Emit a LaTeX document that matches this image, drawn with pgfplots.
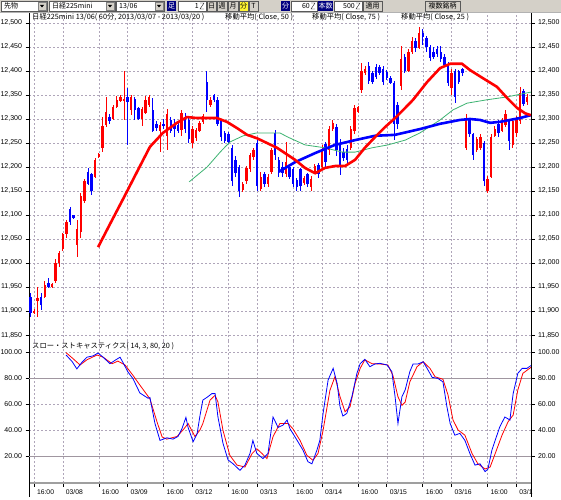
\documentclass[border=0pt]{standalone}
\usepackage{fontspec}
\setmainfont{Liberation Sans}
\newfontfamily\jp{Noto Sans CJK JP}
\usepackage{pgfplots}
\usepackage{pgfplotstable}
\pgfplotsset{compat=1.18}
\definecolor{gridc}{RGB}{175,165,185}
\definecolor{tb}{RGB}{212,208,200}
\definecolor{navyc}{RGB}{0,0,128}
\definecolor{mag}{RGB}{60,179,113}
\definecolor{thr}{RGB}{160,150,160}

% up (red) candles
\pgfplotstableread{
i o h l c
0 11895 11905 11893 11900
1 11920 11950 11888 11927
3 11930 11962 11927 11955
5 11950 11958 11948 11956
6 11962 12008 11958 12000
7 12000 12025 11992 12020
8 12030 12062 12025 12060
9 12060 12090 12052 12085
12 12037 12090 12012 12071
13 12065 12146 12052 12140
14 12130 12175 12125 12170
17 12180 12219 12177 12215
18 12220 12229 12219 12228
19 12240 12304 12231 12285
20 12288 12346 12283 12315
22 12300 12329 12298 12325
23 12325 12348 12323 12340
24 12337 12350 12335 12345
25 12337 12400 12298 12342
27 12318 12350 12308 12345
30 12300 12325 12285 12320
31 12312 12347 12310 12340
32 12330 12350 12326 12345
35 12274 12294 12232 12287
37 12265 12320 12235 12310
41 12278 12318 12265 12312
44 12250 12285 12240 12280
45 12260 12282 12255 12278
46 12276 12296 12272 12292
47 12294 12310 12290 12306
49 12330 12345 12325 12340
58 12152 12168 12148 12164
59 12170 12203 12165 12198
60 12196 12230 12190 12225
61 12220 12240 12215 12235
63 12155 12190 12150 12180
65 12165 12185 12158 12180
66 12190 12240 12185 12235
70 12185 12253 12180 12210
75 12166 12182 12162 12178
77 12158 12182 12150 12175
78 12188 12206 12185 12202
80 12200 12245 12195 12238
82 12235 12286 12225 12280
83 12280 12298 12275 12292
88 12240 12286 12235 12280
89 12275 12330 12268 12322
90 12315 12328 12312 12325
91 12360 12416 12355 12400
92 12396 12410 12392 12405
102 12368 12452 12360 12425
104 12400 12445 12398 12440
105 12440 12470 12435 12462
107 12448 12492 12445 12480
116 12365 12405 12350 12395
120 12240 12310 12235 12300
123 12236 12262 12232 12258
124 12240 12268 12235 12262
126 12150 12182 12145 12175
127 12180 12268 12178 12262
128 12265 12286 12262 12280
130 12275 12302 12272 12296
131 12288 12318 12284 12310
133 12245 12303 12240 12295
134 12270 12306 12262 12300
135 12295 12366 12290 12355
137 12335 12352 12330 12345
}\upc

% down (blue) candles
\pgfplotstableread{
i o h l c
-1 11930 11937 11887 11895
2 11930 11937 11902 11912
4 11958 11968 11948 11950
10 12112 12117 12080 12085
11 12100 12100 12092 12094
15 12190 12198 12162 12165
16 12185 12187 12142 12150
21 12305 12310 12290 12295
26 12346 12365 12246 12335
28 12342 12346 12297 12318
29 12323 12326 12298 12301
33 12318 12343 12272 12275
34 12290 12296 12275 12282
36 12290 12300 12280 12285
38 12298 12305 12270 12275
39 12290 12300 12262 12280
40 12287 12292 12270 12275
42 12305 12312 12270 12280
43 12298 12302 12250 12258
48 12378 12400 12315 12340
50 12350 12352 12335 12340
51 12340 12345 12285 12290
52 12298 12300 12255 12262
53 12270 12275 12250 12255
54 12268 12272 12248 12252
55 12240 12245 12160 12170
56 12215 12222 12180 12188
57 12200 12205 12138 12150
62 12250 12256 12150 12160
64 12185 12190 12158 12165
67 12270 12277 12215 12225
68 12215 12220 12180 12190
69 12200 12210 12180 12188
71 12200 12205 12175 12180
72 12195 12200 12158 12165
73 12172 12178 12150 12158
74 12195 12198 12150 12160
76 12185 12188 12158 12165
79 12205 12208 12178 12185
81 12248 12252 12198 12210
84 12284 12290 12222 12235
85 12250 12258 12183 12200
86 12232 12240 12212 12218
87 12238 12245 12205 12215
93 12410 12418 12372 12380
94 12395 12400 12372 12378
95 12408 12414 12383 12388
96 12408 12412 12392 12396
97 12405 12410 12370 12378
98 12398 12402 12382 12386
99 12385 12390 12372 12376
100 12376 12380 12256 12290
101 12330 12335 12280 12290
103 12430 12435 12395 12400
106 12462 12468 12440 12448
108 12480 12488 12455 12470
109 12468 12472 12440 12450
110 12450 12455 12420 12428
111 12440 12450 12425 12430
112 12445 12452 12430 12435
113 12440 12452 12418 12425
114 12430 12436 12410 12413
115 12415 12418 12368 12375
117 12400 12405 12333 12345
118 12400 12402 12372 12378
119 12405 12406 12390 12395
121 12300 12302 12262 12268
122 12268 12270 12215 12225
125 12250 12255 12160 12170
129 12290 12298 12263 12270
132 12296 12300 12235 12255
136 12358 12362 12328 12332
}\dnc

\pgfplotstableread{
i v
17.8 12033
21.1 12081
25.0 12137
28.9 12194
32.2 12242
35.8 12271
39.7 12292
42.5 12304
45.3 12302
50.8 12302
53.6 12294
56.4 12281
59.2 12267
61.9 12260
64.7 12250
67.5 12240
69.7 12229
72.5 12215
75.3 12198
78.1 12187
80.8 12198
83.6 12202
86.4 12202
89.2 12215
91.9 12240
94.7 12262
97.5 12283
100.3 12302
103.1 12323
105.3 12340
109.2 12377
112.8 12406
115.6 12415
118.9 12415
121.1 12402
124.7 12385
128.6 12367
131.4 12344
134.2 12323
136.4 12312
138.0 12308
}\matwentyfive

\pgfplotstableread{
i v
68.0 12190
72.5 12210
78.1 12229
83.6 12246
89.2 12256
94.7 12265
100.3 12267
107.2 12279
112.8 12290
118.3 12298
121.1 12300
123.9 12298
126.7 12292
129.4 12294
132.2 12298
135.0 12302
138.0 12308
}\maseventyfive

\pgfplotstableread{
i v
43.1 12169
48.1 12200
51.7 12231
54.4 12252
58.1 12265
61.9 12271
68.3 12271
70.6 12262
75.3 12246
80.8 12240
85.6 12231
89.2 12231
93.9 12240
98.3 12246
103.1 12256
107.2 12271
112.8 12298
116.4 12319
120.3 12333
125.8 12340
131.4 12346
138.0 12356
}\mafifty

\pgfplotstableread{
i v
8.9 97.7
10.6 92.6
11.9 87
13.3 92
14.7 96
16.4 97
17.8 99.2
19.2 96
21.1 91
22.5 93.6
23.9 96
24.7 92
26.1 84.6
27.5 79.5
29.4 68.5
31.7 64.4
32.2 65
33.6 45
35.0 32
36.9 34
38.6 33
40.0 35
41.1 41
42.2 49.7
42.8 42
44.2 31
45.3 37
46.1 51
46.9 63
48.3 65.6
49.4 68
50.3 68
51.1 50
52.5 29.7
53.9 17
55.3 14
57.2 9
58.6 13
60.0 22
60.8 32
61.9 22
63.6 18
65.0 22
66.4 50
67.8 42
69.2 43.8
70.3 47.7
71.1 41
73.1 32
74.7 24.6
76.1 15.6
77.2 14
78.6 24.6
79.4 32
80.3 52.8
81.7 78.5
83.1 87.4
84.2 75.9
85.0 58
85.8 50.7
86.9 52.8
88.3 65.6
89.7 83.6
90.6 91
91.9 94.4
93.3 88.7
94.7 90.8
96.1 91.3
98.1 90
99.4 84.9
100.3 65.6
101.1 45
102.2 65.6
103.1 70.8
104.4 84.9
105.3 90.8
106.7 90.8
108.1 92.5
109.2 87.4
110.6 80.5
112.2 79.7
113.6 77
114.7 57.9
115.6 45
116.9 36
118.3 37.4
119.7 32
121.1 21.8
122.5 13
123.9 14
125.3 8
126.1 10
127.2 24.6
128.1 32
129.4 42.5
130.8 50
132.2 47.7
133.1 68
134.4 83.6
135.6 87.4
136.9 87.4
138.3 90
}\stochK

\pgfplotstableread{
i v
8.9 99.5
10.8 95
12.8 90
14.7 94
17.5 97.7
19.2 96
21.7 91
23.3 93
25.3 90
27.5 82
29.4 74.6
32.2 64
34.2 46
35.6 34.6
36.9 33
39.7 35
41.4 40
42.8 45
44.7 35
46.1 40
46.9 45
48.9 63
50.3 66.7
51.1 61.5
52.5 39.7
54.4 20.5
56.4 13
58.6 11.5
60.6 22
61.9 25.6
63.3 22
64.7 18
66.4 34.9
68.3 45
70.6 45
71.9 41
73.9 32
75.8 20.5
77.5 16.7
78.9 22
80.3 39.7
82.2 70.5
83.6 81
85.0 65.6
86.4 54
87.8 58
89.2 76
90.6 87.4
91.9 94
93.9 91
96.1 90.8
98.3 90
99.7 82
101.1 65.6
102.2 59
103.1 61.5
104.4 77
106.4 88.7
108.1 92.5
110.0 87.4
111.4 81
113.6 79
115.0 67
116.4 47.7
117.8 40
119.7 36
121.7 21.8
123.3 14
125.3 10
126.7 11.5
128.1 21.8
130.0 36
131.7 46.4
133.1 51.5
134.4 70.8
135.8 83.6
138.3 88.7
}\stochD

\pgfplotsset{
  base/.style={scale only axis, width=502pt, xmin=-1.39, xmax=138.06,
    tick align=outside, major tick length=3.5pt,
    every tick/.style={black, line width=0.6pt},
    ticklabel style={font=\fontsize{7}{8}\selectfont},
    /pgf/number format/assume math mode=true},
  gridsty/.style={grid style={gridc, dash pattern=on 2pt off 2pt, line width=0.5pt}},
  wick/.style={draw=none, mark=none, forget plot,
    error bars/.cd, y dir=both, y explicit, error mark=none,
    error bar style={draw=#1, line width=0.9pt}},
  body/.style={draw=none, mark=none, forget plot,
    error bars/.cd, y dir=both, y explicit, error mark=none,
    error bar style={draw=#1, line width=2.5pt}},
}

\begin{document}
\begin{tikzpicture}[x=1pt,y=1pt]
\useasboundingbox (0,0) rectangle (561,499);
\fill[white] (0,0) rectangle (561,499);

% ===== main price panel =====
\begin{axis}[base, gridsty, at={(29pt,158pt)}, anchor=south west, height=329pt,
  ymin=11837.5, ymax=12522.9,
  axis x line*=bottom, axis y line*=left,
  x axis line style={draw=none}, y axis line style={black, line width=0.8pt},
  xtick={0,8,18,26,36,44,54,62,72,80,90,98,108,116,126,134},
  xticklabels={}, xmajorticks=false, xmajorgrids,
  ytick={11850,11900,...,12500}, ymajorgrids, scaled y ticks=false,
  yticklabel style={/pgf/number format/1000 sep={,}}]
\addplot[wick=red] table[x=i, y expr={0.5*\thisrow{h}+0.5*\thisrow{l}}, y error expr={0.5*(\thisrow{h}-\thisrow{l})}] {\upc};
\addplot[wick=blue] table[x=i, y expr={0.5*\thisrow{h}+0.5*\thisrow{l}}, y error expr={0.5*(\thisrow{h}-\thisrow{l})}] {\dnc};
\addplot[body=red] table[x=i, y expr={0.5*\thisrow{o}+0.5*\thisrow{c}}, y error expr={max(0.5*abs(\thisrow{c}-\thisrow{o}),1.5)}] {\upc};
\addplot[body=blue] table[x=i, y expr={0.5*\thisrow{o}+0.5*\thisrow{c}}, y error expr={max(0.5*abs(\thisrow{c}-\thisrow{o}),1.5)}] {\dnc};
\addplot[mag, line width=0.8pt] table[x=i, y=v] {\mafifty};
\addplot[blue, line width=2.6pt] table[x=i, y=v] {\maseventyfive};
\addplot[red, line width=2.6pt] table[x=i, y=v] {\matwentyfive};
\end{axis}
\begin{axis}[base, at={(29pt,158pt)}, anchor=south west, height=329pt,
  ymin=11837.5, ymax=12522.9, axis x line=none, axis y line*=right,
  y axis line style={black, line width=0.8pt},
  ytick={11850,11900,...,12500}, scaled y ticks=false,
  yticklabel style={/pgf/number format/1000 sep={,}}]
\end{axis}

% ===== stochastics panel =====
\begin{axis}[base, gridsty, at={(29pt,16pt)}, anchor=south west, height=142pt,
  ymin=-0.77, ymax=108.46,
  axis x line*=bottom, axis y line*=left,
  x axis line style={draw=gray!75, line width=1.3pt}, y axis line style={black, line width=0.8pt},
  xtick={0,8,18,26,36,44,54,62,72,80,90,98,108,116,126,134},
  xticklabels={16:00,03/08,16:00,03/09,16:00,03/12,16:00,03/13,16:00,03/14,16:00,03/15,16:00,03/16,16:00,03/1},
  xticklabel style={anchor=north west, xshift=-0.5pt, font=\fontsize{6.8}{8}\selectfont},
  xmajorgrids,
  ytick={40,60,100}, extra y ticks={20,80},
  extra y tick style={major grid style={thr, solid, line width=0.9pt}},
  ymajorgrids,
  yticklabel={\pgfmathprintnumber[fixed, fixed zerofill, precision=2]{\tick}}]
\addplot[red, line width=0.8pt] table[x=i, y=v] {\stochD};
\addplot[blue, line width=0.8pt] table[x=i, y=v] {\stochK};
\end{axis}
\begin{axis}[base, at={(29pt,16pt)}, anchor=south west, height=142pt,
  ymin=-0.77, ymax=108.46, axis x line=none, axis y line*=right,
  y axis line style={black, line width=0.8pt},
  ytick={20,40,60,80,100},
  yticklabel={\pgfmathprintnumber[fixed, fixed zerofill, precision=2]{\tick}}]
\end{axis}

% ===== overlay in pixel coordinates (y downward) =====
\begin{scope}[shift={(0,499)}, y=-1pt]
\draw[black, line width=0.8pt] (29,483) -- (29,497);
\draw[black, line width=0.8pt] (531,483) -- (531,497);
\node[anchor=west, inner sep=0, font=\jp\fontsize{7.3}{8}\selectfont] at (32,17.5) {日経225mini 13/06( 60分, 2013/03/07 - 2013/03/20 )};
\node[anchor=west, inner sep=0, font=\jp\fontsize{7.3}{8}\selectfont] at (225,17.5) {移動平均( Close, 50 )};
\node[anchor=west, inner sep=0, font=\jp\fontsize{7.3}{8}\selectfont] at (312,17.5) {移動平均( Close, 75 )};
\node[anchor=west, inner sep=0, font=\jp\fontsize{7.3}{8}\selectfont] at (401,17.5) {移動平均( Close, 25 )};
\node[anchor=west, inner sep=0, font=\jp\fontsize{7.3}{8}\selectfont] at (32,346.5) {スロー・ストキャスティクス( 14, 3, 80, 20 )};

% toolbar
\fill[tb] (0,0) rectangle (561,12);
\draw[gray!60] (0,12) -- (561,12);
\tikzset{tbtext/.style={inner sep=0, font=\jp\fontsize{7}{8}\selectfont}}
% combos
\foreach \a/\b/\t in {1/47/{先物}, 49/115/{日経225mini}, 116/164/{13/06}}{
  \fill[white] (\a,1) rectangle (\b,11);
  \draw[gray!70!black, line width=0.4pt] (\a,1) rectangle (\b,11);
  \node[tbtext, anchor=west] at (\a+3,6) {\t};
  \fill[tb] (\b-9,2) rectangle (\b-1,10);
  \draw[gray, line width=0.3pt] (\b-9,2) rectangle (\b-1,10);
  \fill[black] (\b-7,5) -- (\b-3,5) -- (\b-5,7.5) -- cycle;
}
% navy labels
\foreach \a/\b/\t in {167/176/足, 281/290/分, 318/333/本数}{
  \fill[navyc] (\a,1) rectangle (\b,11);
  \node[tbtext, white] at ({(\a+\b)/2},6) {\t};
}
% inputs
\foreach \a/\b/\t in {178/206/1, 291/317/60, 334/362/500}{
  \fill[white] (\a,1) rectangle (\b,11);
  \draw[gray!70!black, line width=0.4pt] (\a,1) rectangle (\b,11);
  \node[tbtext, anchor=east] at (\b-7,6) {\t};
  \draw[black, line width=0.4pt] (\b-6,3) -- (\b-2,3) -- (\b-6,9) -- (\b-2,9);
}
% buttons
\foreach \a/\b/\t in {207/216/日, 217/227/週, 228/238/月, 249/258/T, 363/382/適用, 425/460/複数銘柄}{
  \fill[tb] (\a,1) rectangle (\b,11);
  \draw[gray!70!black, line width=0.4pt] (\a,1) rectangle (\b,11);
  \node[tbtext] at ({(\a+\b)/2},6) {\t};
}
\fill[yellow!80] (239,1) rectangle (248,11);
\draw[gray!70!black, line width=0.4pt] (239,1) rectangle (248,11);
\node[tbtext] at (243.5,6) {分};
\end{scope}
\end{tikzpicture}
\end{document}
